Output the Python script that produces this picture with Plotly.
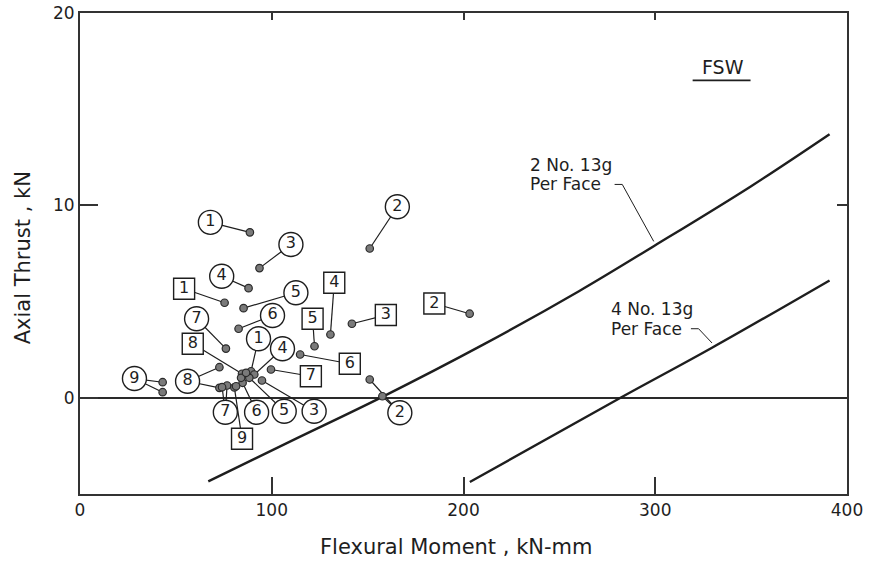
import numpy as np
import plotly.graph_objects as go

# Interaction envelopes: flexural moment (kN-mm) vs axial thrust (kN)
env_2bar_m = [66.9, 110.0, 157.7, 210.0, 260.2, 299.2, 350.0, 390.9]
env_2bar_p = [-4.34, -2.25, 0.05, 2.75, 5.54, 7.88, 11.0, 13.7]
env_4bar_m = [203.3, 281.9, 329.6, 390.9]
env_4bar_p = [-4.38, 0.0, 2.60, 6.10]

# Test labels: number, symbol (circle / square) and where the tag sits
label_text = ["1", "3", "4", "5", "6", "7", "1", "4", "8", "9", "7", "6", "5", "3", "2", "2",
              "1", "4", "5", "8", "6", "7", "3", "2", "9"]
label_shape = ["circle"] * 16 + ["square"] * 9
label_m = [68.0, 110.0, 73.9, 112.6, 100.4, 60.8, 93.1, 105.6, 56.1, 28.4, 75.8, 92.1, 106.5,
           122.1, 165.5, 166.8, 54.3, 132.6, 121.3, 58.8, 140.7, 120.4, 159.5, 184.8, 84.5]
label_p = [9.12, 7.97, 6.32, 5.46, 4.28, 4.11, 3.07, 2.55, 0.86, 1.00, -0.75, -0.75, -0.70,
           -0.70, 9.93, -0.78, 5.67, 5.98, 4.11, 2.81, 1.77, 1.12, 4.30, 4.90, -2.13]

# Measured load points and the tag each one is tied to (None = no tag)
pt_m = [88.6, 93.6, 87.9, 85.3, 82.7, 76.1, 89.2, 90.9, 72.7, 72.7, 43.1, 43.1, 76.7, 74.1,
        84.8, 88.3, 94.9, 151.1, 151.1, 157.7, 75.4, 130.6, 122.3, 84.5, 114.8, 99.6, 141.8,
        203.2, 80.5, 84.0, 81.4, 86.6]
pt_p = [8.60, 6.74, 5.70, 4.66, 3.59, 2.56, 1.38, 1.21, 1.59, 0.52, 0.81, 0.29, 0.64, 0.55,
        0.78, 1.04, 0.90, 7.76, 0.95, 0.08, 4.94, 3.29, 2.68, 1.25, 2.25, 1.47, 3.85, 4.37,
        0.54, 1.04, 0.60, 1.30]
pt_label = [0, 1, 2, 3, 4, 5, 6, 7, 8, 8, 9, 9, 10, 10, 11, 12, 13, 14, 15, 15, 16, 17, 18,
            19, 20, 21, 22, 23, 24, None, None, None]

x_ticks = [0, 100, 200, 300, 400]
y_ticks = [0, 10, 20]

INK = "#1e1e1e"
FONT = "DejaVu Sans"

fig = go.Figure()

# envelopes
for m, p in ((env_2bar_m, env_2bar_p), (env_4bar_m, env_4bar_p)):
    fig.add_trace(go.Scatter(x=m, y=p, mode="lines", line=dict(color=INK, width=2.4, shape="spline"),
                             hoverinfo="skip", showlegend=False))

# leaders from each point to its tag
lx, ly = [], []
for m, p, k in zip(pt_m, pt_p, pt_label):
    if k is None:
        continue
    lx += [m, label_m[k], None]
    ly += [p, label_p[k], None]
fig.add_trace(go.Scatter(x=lx, y=ly, mode="lines", line=dict(color=INK, width=1.2),
                         hoverinfo="skip", showlegend=False))

# envelope captions (two lines each) with leaders to the curves
captions = [
    dict(x=233.6, lines=("2 No. 13g", "Per Face"), y=(12.08, 11.09), dash=278.8, tip=299.2,
         m=env_2bar_m, p=env_2bar_p),
    dict(x=276.1, lines=("4 No. 13g", "Per Face"), y=(4.59, 3.59), dash=318.6, tip=329.6,
         m=env_4bar_m, p=env_4bar_p),
]
for c in captions:
    for txt, yy in zip(c["lines"], c["y"]):
        fig.add_annotation(x=c["x"], y=yy, xref="x", yref="y", text=txt, showarrow=False,
                           xanchor="left", yanchor="middle",
                           font=dict(family=FONT, size=17, color=INK))
    ty = float(np.interp(c["tip"], c["m"], c["p"]))
    cy = c["y"][1]
    fig.add_trace(go.Scatter(x=[c["dash"], c["dash"] + 4.0, c["tip"]], y=[cy, cy, ty + 0.25],
                             mode="lines", line=dict(color=INK, width=1),
                             hoverinfo="skip", showlegend=False))

# load points
fig.add_trace(go.Scatter(x=pt_m, y=pt_p, mode="markers",
                         marker=dict(size=7.5, color="#7a7a7a", line=dict(color="#2a2a2a", width=1.2)),
                         hoverinfo="skip", showlegend=False))

# tags
for shape, size in (("circle", 24), ("square", 21)):
    idx = [i for i, s in enumerate(label_shape) if s == shape]
    fig.add_trace(go.Scatter(
        x=[label_m[i] for i in idx], y=[label_p[i] for i in idx],
        mode="markers+text", text=[label_text[i] for i in idx], textposition="middle center",
        textfont=dict(family=FONT, size=16, color=INK),
        marker=dict(symbol=shape, size=size, color="white", line=dict(color=INK, width=1.4)),
        hoverinfo="skip", showlegend=False))

# invisible trace to carry the short mirrored ticks
fig.add_trace(go.Scatter(x=[0], y=[0], xaxis="x2", yaxis="y2", mode="markers",
                         marker=dict(opacity=0), hoverinfo="skip", showlegend=False))

fig.add_annotation(x=335.2, y=17.2, xref="x", yref="y", text="FSW", showarrow=False,
                   font=dict(family=FONT, size=19, color=INK))
fig.add_shape(type="line", x0=319.5, x1=349.7, y0=16.5, y1=16.5, xref="x", yref="y",
              line=dict(color=INK, width=1.6))

# axis titles
fig.add_annotation(x=0.4915, y=0, xref="paper", yref="paper", yshift=-53, yanchor="middle",
                   text="Flexural Moment , kN-mm", showarrow=False,
                   font=dict(family=FONT, size=21, color=INK))
fig.add_annotation(x=0, y=0.49, xref="paper", yref="paper", xshift=-57, xanchor="center",
                   text="Axial Thrust , kN", textangle=-90, showarrow=False,
                   font=dict(family=FONT, size=21, color=INK))

axis_common = dict(showgrid=False, showline=True, linecolor="#333333", linewidth=2,
                   mirror=True, ticks="inside", tickcolor="#333333", tickwidth=1.5,
                   automargin=False,
                   tickfont=dict(family=FONT, size=17, color=INK))

fig.update_layout(
    width=878, height=564,
    margin=dict(l=80, r=31, t=13, b=70),
    paper_bgcolor="white", plot_bgcolor="white",
    font=dict(family=FONT, color=INK),
    xaxis=dict(range=[0, 400], tickvals=x_ticks, ticklen=17, zeroline=False, **axis_common),
    yaxis=dict(range=[-5, 20], tickvals=y_ticks, ticklen=18, zeroline=True,
               zerolinecolor="#2a2a2a", zerolinewidth=2, **axis_common),
    xaxis2=dict(range=[0, 400], overlaying="x", side="top", anchor="y2", tickvals=x_ticks,
                ticks="inside", ticklen=7, tickcolor="#333333", tickwidth=1.5, automargin=False,
                showticklabels=False, showgrid=False, showline=False, zeroline=False),
    yaxis2=dict(range=[-5, 20], overlaying="y", side="right", anchor="x2", tickvals=[10],
                ticks="inside", ticklen=10, tickcolor="#333333", tickwidth=1.5, automargin=False,
                showticklabels=False, showgrid=False, showline=False, zeroline=False),
)

fig.write_html("out.html")
